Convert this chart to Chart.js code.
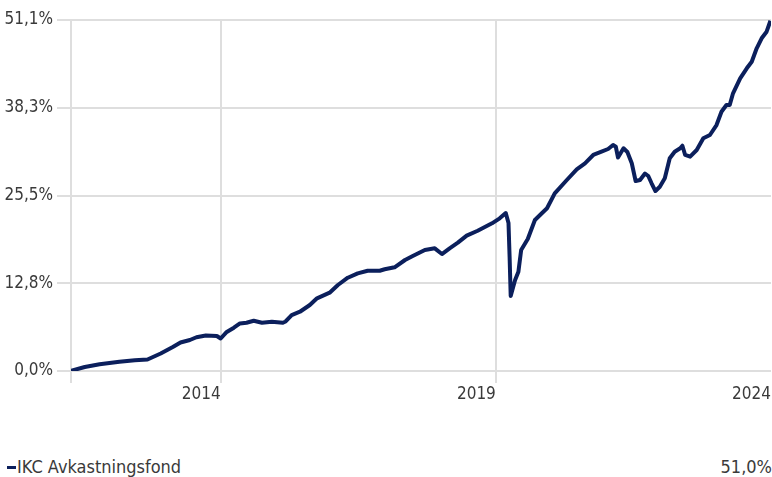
<!DOCTYPE html>
<html>
<head>
<meta charset="utf-8">
<script src="https://cdn.jsdelivr.net/npm/chart.js@4.4.1/dist/chart.umd.min.js"></script>
<style>
    body { margin: 0; background: #fff; }
    #wrap { position: relative; width: 772px; height: 400px; }
    #legend {
        position: absolute; left: 0; top: 454px; width: 772px; height: 24px;
        display: flex; justify-content: space-between; align-items: center;
        font-family: "Liberation Sans Narrow", "DejaVu Sans Condensed", sans-serif;
        font-size: 18px; color: #3a3a3a;
    }
    #legend .mark { display: inline-block; width: 9px; height: 3px; background: #0b1f5c; margin: 0 1px 0 7px; vertical-align: middle; }
</style>
</head>
<body>
<div id="wrap"><canvas id="chart"></canvas></div>
<div id="legend">
    <span><span class="mark"></span><span id="seriesName"></span></span>
    <span id="seriesValue"></span>
</div>
<script>
    // Fund return since start, in percent (x = decimal year)
    const seriesName = "IKC Avkastningsfond";
    const years = [
        2011.27, 2011.53, 2011.80, 2012.16, 2012.44, 2012.67, 2012.91, 2013.13, 2013.27, 2013.44,
        2013.56, 2013.73, 2013.93, 2014.00, 2014.11, 2014.24, 2014.35, 2014.47, 2014.60, 2014.75,
        2014.93, 2015.13, 2015.18, 2015.29, 2015.44, 2015.62, 2015.75, 2015.98, 2016.13, 2016.31,
        2016.49, 2016.67, 2016.89, 2016.98, 2017.16, 2017.35, 2017.49, 2017.71, 2017.89, 2018.02,
        2018.16, 2018.31, 2018.47, 2018.67, 2018.93, 2019.07, 2019.18, 2019.23, 2019.25, 2019.27,
        2019.35, 2019.41, 2019.46, 2019.58, 2019.71, 2019.85, 2019.93, 2020.07, 2020.29, 2020.47,
        2020.62, 2020.77, 2020.92, 2021.04, 2021.13, 2021.18, 2021.22, 2021.32, 2021.39, 2021.47,
        2021.54, 2021.62, 2021.71, 2021.77, 2021.83, 2021.90, 2021.98, 2022.07, 2022.16, 2022.25,
        2022.35, 2022.39, 2022.44, 2022.53, 2022.65, 2022.77, 2022.89, 2023.01, 2023.10, 2023.19,
        2023.25, 2023.31, 2023.44, 2023.56, 2023.65, 2023.74, 2023.83, 2023.92, 2023.99
    ];
    const values = [
        0.0, 0.58, 0.98, 1.35, 1.56, 1.67, 2.55, 3.49, 4.15, 4.51,
        4.91, 5.17, 5.10, 4.73, 5.68, 6.30, 6.92, 7.03, 7.32, 7.03,
        7.18, 7.03, 7.21, 8.15, 8.63, 9.61, 10.58, 11.40, 12.52, 13.58,
        14.22, 14.60, 14.60, 14.81, 15.10, 16.16, 16.74, 17.62, 17.86, 17.03,
        17.86, 18.68, 19.70, 20.42, 21.50, 22.23, 23.00, 21.55, 16.64, 10.92,
        13.25, 14.46, 17.62, 19.22, 21.98, 23.07, 23.69, 25.87, 27.81, 29.36,
        30.24, 31.45, 31.93, 32.32, 32.90, 32.65, 31.08, 32.42, 31.88, 30.24,
        27.66, 27.81, 28.75, 28.39, 27.33, 26.20, 26.83, 28.05, 30.97, 31.93,
        32.42, 32.80, 31.45, 31.20, 32.17, 33.88, 34.36, 35.81, 37.75, 38.72,
        38.72, 40.43, 42.61, 44.07, 45.03, 46.98, 48.44, 49.40, 51.00
    ];

    const xMin = 2011.28;
    const xMax = 2024;
    const xTicks = [2014, 2019, 2024];
    const yTicks = [0, 12.775, 25.55, 38.325, 51.1];
    const yTickLabels = ["0,0%", "12,8%", "25,5%", "38,3%", "51,1%"];

    const lineColor = "#0b1f5c";
    const gridColor = "#dedede";
    const textColor = "#3a3a3a";
    const fontFamily = '"Liberation Sans Narrow", "DejaVu Sans Condensed", sans-serif';

    document.getElementById("seriesName").textContent = seriesName;
    document.getElementById("seriesValue").textContent =
        values[values.length - 1].toFixed(1).replace(".", ",") + "%";

    new Chart(document.getElementById("chart"), {
        type: "line",
        data: {
            datasets: [{
                label: seriesName,
                data: years.map((x, i) => ({x: x, y: values[i]})),
                borderColor: lineColor,
                borderWidth: 4,
                pointRadius: 0,
                fill: false,
                tension: 0,
                borderJoinStyle: "round",
            }],
        },
        options: {
            responsive: true,
            maintainAspectRatio: false,
            animation: false,
            layout: {padding: {left: 0, right: 0, top: 20, bottom: 0}},
            plugins: {
                legend: {display: false},
                tooltip: {enabled: false},
            },
            scales: {
                x: {
                    type: "linear",
                    min: xMin,
                    max: xMax,
                    afterBuildTicks: (scale) => {
                        scale.ticks = [xMin, ...xTicks].map(v => ({value: v}));
                    },
                    afterFit: (scale) => { scale.height = 29; },
                    border: {display: false},
                    grid: {
                        color: (ctx) => (ctx.tick && ctx.tick.value === xMax) ? "rgba(0,0,0,0)" : gridColor,
                        lineWidth: 2,
                        tickLength: 12,
                    },
                    ticks: {
                        align: "end",
                        padding: 1,
                        maxRotation: 0,
                        color: textColor,
                        font: {family: fontFamily, size: 17},
                        callback: (v) => (v === xMin ? "" : String(v)),
                    },
                },
                y: {
                    min: 0,
                    max: 51.1,
                    afterBuildTicks: (scale) => {
                        scale.ticks = yTicks.map(v => ({value: v}));
                    },
                    afterFit: (scale) => { scale.width = 71; },
                    border: {display: false},
                    grid: {
                        color: gridColor,
                        lineWidth: 2,
                        tickLength: 14,
                    },
                    ticks: {
                        padding: 4,
                        color: textColor,
                        font: {family: fontFamily, size: 17},
                        callback: (v, i) => yTickLabels[i],
                    },
                },
            },
        },
    });
</script>
</body>
</html>
